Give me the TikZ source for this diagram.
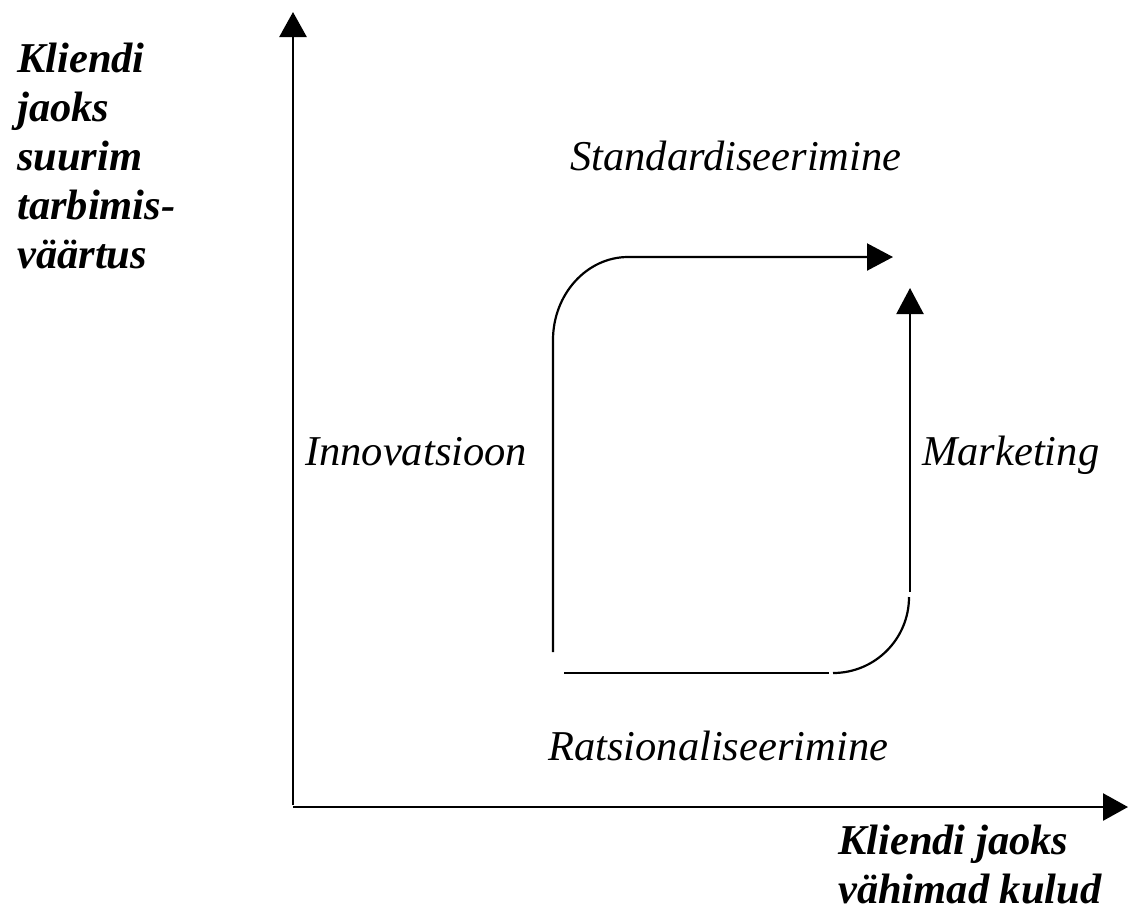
\documentclass[tikz,border=0pt]{standalone}
\usepackage{fontspec}
\setmainfont{Liberation Serif}
\usetikzlibrary{arrows.meta}
\tikzset{
  axis/.style={line width=2.6pt, -{Triangle[length=25pt,width=27pt]}},
  flow/.style={line width=2.2pt},
  flowarrow/.style={flow, -{Triangle[length=26pt,width=27pt]}},
  lbl/.style={font=\fontsize{42.5}{49}\selectfont\itshape, inner sep=0pt, anchor=base west},
  axlbl/.style={font=\fontsize{42.5}{48.8}\selectfont\bfseries\itshape, inner sep=0pt, anchor=base west, align=left}
}
\begin{document}
\begin{tikzpicture}[x=1pt,y=-1pt]
\useasboundingbox (0,0) rectangle (1129,914);
% axes
\coordinate (O) at (293,807);
\coordinate (ytop) at (293,12);
\coordinate (xend) at (1128,807);
\draw[axis] (O |- 0,805) -- (ytop);
\draw[axis] (O) -- (xend);
% axis labels (anchored at the baseline of their last line)
\node[axlbl] (ylab) at (17,268) {Kliendi\\jaoks\\suurim\\tarbimis-\\väärtus};
\node[axlbl] (xlab) at (838,903) {Kliendi jaoks\\vähimad kulud};
% loop labels
\node[lbl] (std) at (570,170) {Standardiseerimine};
\node[lbl] (inn) at (305,465) {Innovatsioon};
\node[lbl] (mkt) at (922,465) {Marketing};
\node[lbl] (rat) at (548,760) {Ratsionaliseerimine};
% upper path: innovation then standardisation
\coordinate (a0) at (553,652);
\coordinate (a1) at (553,340);
\coordinate (a2) at (628,257);
\coordinate (a3) at (893,257);
\draw[flowarrow] (a0) -- (a1) .. controls (553,294) and (587,257) .. (a2) -- (a3);
% lower path: rationalisation then marketing
\coordinate (b0) at (564,673);
\coordinate (b1) at (829,673);
\coordinate (b2) at (833,673);
\coordinate (b3) at (909,597);
\coordinate (c0) at (910,592);
\coordinate (c1) at (910,288);
\draw[flow] (b0) -- (b1);
\draw[flow] (b2) .. controls (875,673) and (909,639) .. (b3);
\draw[flowarrow] (c0) -- (c1);
\end{tikzpicture}
\end{document}
